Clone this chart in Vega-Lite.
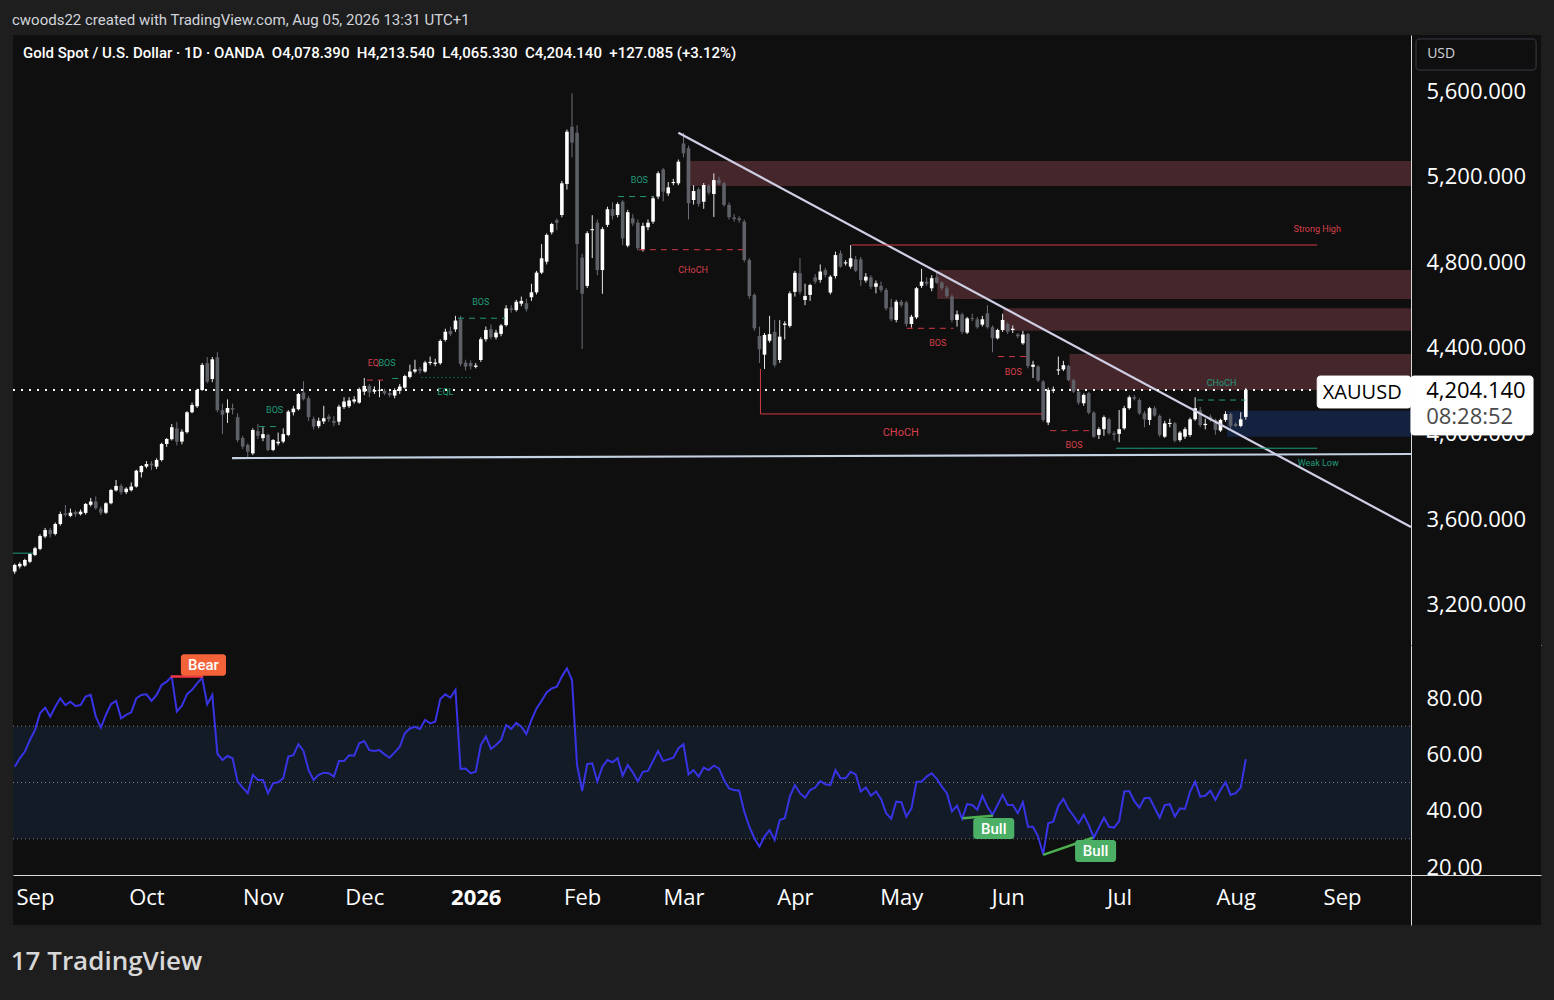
{
  "$schema": "https://vega.github.io/schema/vega-lite/v6.json",
  "background": "#1e1e1e",
  "padding": {"left": 10, "top": 13, "right": 13, "bottom": 40},
  "spacing": 0,
  "title": {"text": "17 TradingView", "orient": "bottom", "anchor": "start", "offset": 24, "font": "Open Sans", "fontSize": 26, "fontWeight": 600, "color": "#d8d8d8"},
  "datasets": {
    "candles": [
      {"i":-4,"o":3356,"h":3393,"l":3345,"c":3387},{"i":-3,"o":3380,"h":3400,"l":3370,"c":3392},{"i":-2,"o":3384,"h":3416,"l":3378,"c":3410},{"i":-1,"o":3402,"h":3442,"l":3395,"c":3438},
      {"i":0,"o":3434,"h":3472,"l":3428,"c":3465},{"i":1,"o":3462,"h":3530,"l":3455,"c":3522},{"i":2,"o":3520,"h":3560,"l":3512,"c":3550},{"i":3,"o":3550,"h":3560,"l":3515,"c":3532},
      {"i":4,"o":3532,"h":3585,"l":3525,"c":3578},{"i":5,"o":3578,"h":3636,"l":3570,"c":3625},{"i":6,"o":3628,"h":3667,"l":3612,"c":3620},{"i":7,"o":3616,"h":3650,"l":3610,"c":3631},
      {"i":8,"o":3634,"h":3642,"l":3612,"c":3624},{"i":9,"o":3624,"h":3646,"l":3618,"c":3636},{"i":10,"o":3630,"h":3676,"l":3622,"c":3672},{"i":11,"o":3668,"h":3700,"l":3660,"c":3683},
      {"i":12,"o":3683,"h":3707,"l":3645,"c":3652},{"i":13,"o":3650,"h":3660,"l":3620,"c":3631},{"i":14,"o":3631,"h":3680,"l":3625,"c":3675},{"i":15,"o":3675,"h":3742,"l":3670,"c":3737},
      {"i":16,"o":3735,"h":3784,"l":3730,"c":3756},{"i":17,"o":3756,"h":3766,"l":3715,"c":3726},{"i":18,"o":3727,"h":3750,"l":3718,"c":3743},{"i":19,"o":3736,"h":3772,"l":3730,"c":3753},
      {"i":20,"o":3753,"h":3832,"l":3748,"c":3827},{"i":21,"o":3820,"h":3852,"l":3795,"c":3849},{"i":22,"o":3846,"h":3872,"l":3838,"c":3858},{"i":23,"o":3860,"h":3872,"l":3830,"c":3852},
      {"i":24,"o":3846,"h":3885,"l":3835,"c":3877},{"i":25,"o":3877,"h":3958,"l":3870,"c":3952},{"i":26,"o":3952,"h":3980,"l":3938,"c":3975},{"i":27,"o":3974,"h":4045,"l":3968,"c":4030},
      {"i":28,"o":4025,"h":4055,"l":3945,"c":3963},{"i":29,"o":3963,"h":4020,"l":3950,"c":4009},{"i":30,"o":4007,"h":4105,"l":4000,"c":4100},{"i":31,"o":4100,"h":4145,"l":4095,"c":4134},
      {"i":32,"o":4128,"h":4210,"l":4120,"c":4204},{"i":33,"o":4204,"h":4330,"l":4200,"c":4321},{"i":34,"o":4329,"h":4358,"l":4235,"c":4243},{"i":35,"o":4255,"h":4358,"l":4240,"c":4347},
      {"i":36,"o":4357,"h":4381,"l":4100,"c":4110},{"i":37,"o":4110,"h":4140,"l":3999,"c":4088},{"i":38,"o":4098,"h":4160,"l":4050,"c":4120},{"i":39,"o":4120,"h":4140,"l":4090,"c":4112},
      {"i":40,"o":4077,"h":4095,"l":3960,"c":3970},{"i":41,"o":3980,"h":3990,"l":3928,"c":3940},{"i":42,"o":3947,"h":3955,"l":3886,"c":3916},{"i":43,"o":3908,"h":4025,"l":3900,"c":4017},
      {"i":44,"o":4012,"h":4046,"l":3975,"c":3990},{"i":45,"o":3979,"h":4030,"l":3965,"c":3998},{"i":46,"o":3994,"h":4000,"l":3918,"c":3924},{"i":47,"o":3924,"h":3975,"l":3918,"c":3970},
      {"i":48,"o":3955,"h":4005,"l":3945,"c":3962},{"i":49,"o":3963,"h":4025,"l":3955,"c":3998},{"i":50,"o":3994,"h":4110,"l":3988,"c":4103},{"i":51,"o":4100,"h":4130,"l":4085,"c":4117},
      {"i":52,"o":4114,"h":4190,"l":4108,"c":4185},{"i":53,"o":4192,"h":4245,"l":4155,"c":4161},{"i":54,"o":4165,"h":4175,"l":4060,"c":4077},{"i":55,"o":4069,"h":4080,"l":4020,"c":4033},
      {"i":56,"o":4035,"h":4075,"l":4025,"c":4060},{"i":57,"o":4057,"h":4130,"l":4045,"c":4072},{"i":58,"o":4080,"h":4090,"l":4055,"c":4068},{"i":59,"o":4060,"h":4082,"l":4035,"c":4050},
      {"i":60,"o":4056,"h":4135,"l":4040,"c":4126},{"i":61,"o":4124,"h":4170,"l":4115,"c":4150},{"i":62,"o":4128,"h":4170,"l":4120,"c":4155},{"i":63,"o":4150,"h":4175,"l":4140,"c":4160},
      {"i":64,"o":4145,"h":4215,"l":4140,"c":4207},{"i":65,"o":4196,"h":4260,"l":4180,"c":4223},{"i":66,"o":4223,"h":4232,"l":4170,"c":4192},{"i":67,"o":4196,"h":4220,"l":4185,"c":4204},
      {"i":68,"o":4200,"h":4250,"l":4170,"c":4205},{"i":69,"o":4200,"h":4210,"l":4180,"c":4188},{"i":70,"o":4190,"h":4198,"l":4170,"c":4180},{"i":71,"o":4178,"h":4212,"l":4165,"c":4204},
      {"i":72,"o":4200,"h":4232,"l":4185,"c":4220},{"i":73,"o":4215,"h":4275,"l":4210,"c":4269},{"i":74,"o":4265,"h":4322,"l":4258,"c":4290},{"i":75,"o":4290,"h":4345,"l":4282,"c":4300},
      {"i":76,"o":4302,"h":4312,"l":4280,"c":4294},{"i":77,"o":4290,"h":4340,"l":4285,"c":4332},{"i":78,"o":4330,"h":4360,"l":4320,"c":4335},{"i":79,"o":4326,"h":4350,"l":4315,"c":4332},
      {"i":80,"o":4329,"h":4440,"l":4322,"c":4433},{"i":81,"o":4438,"h":4490,"l":4430,"c":4476},{"i":82,"o":4480,"h":4500,"l":4455,"c":4465},{"i":83,"o":4487,"h":4550,"l":4475,"c":4528},
      {"i":84,"o":4534,"h":4550,"l":4315,"c":4326},{"i":85,"o":4332,"h":4345,"l":4295,"c":4313},{"i":86,"o":4330,"h":4342,"l":4300,"c":4315},{"i":87,"o":4312,"h":4330,"l":4305,"c":4318},
      {"i":88,"o":4344,"h":4450,"l":4335,"c":4441},{"i":89,"o":4441,"h":4500,"l":4430,"c":4484},{"i":90,"o":4488,"h":4510,"l":4440,"c":4450},{"i":91,"o":4450,"h":4485,"l":4440,"c":4472},
      {"i":92,"o":4466,"h":4512,"l":4455,"c":4505},{"i":93,"o":4507,"h":4600,"l":4500,"c":4585},{"i":94,"o":4585,"h":4600,"l":4565,"c":4578},{"i":95,"o":4577,"h":4625,"l":4570,"c":4616},
      {"i":96,"o":4607,"h":4640,"l":4595,"c":4620},{"i":97,"o":4609,"h":4630,"l":4570,"c":4581},{"i":98,"o":4637,"h":4700,"l":4620,"c":4660},{"i":99,"o":4660,"h":4760,"l":4650,"c":4752},
      {"i":100,"o":4752,"h":4885,"l":4745,"c":4819},{"i":101,"o":4803,"h":4935,"l":4790,"c":4928},{"i":102,"o":4940,"h":4985,"l":4930,"c":4979},{"i":103,"o":4997,"h":5005,"l":4950,"c":4985},
      {"i":104,"o":5021,"h":5180,"l":5010,"c":5169},{"i":105,"o":5166,"h":5420,"l":5140,"c":5410},{"i":106,"o":5433,"h":5589,"l":5290,"c":5359},{"i":107,"o":5405,"h":5440,"l":4671,"c":4886},
      {"i":108,"o":4822,"h":4840,"l":4395,"c":4653},{"i":109,"o":4690,"h":4945,"l":4680,"c":4936},{"i":110,"o":4950,"h":5020,"l":4820,"c":4955},{"i":111,"o":4985,"h":5000,"l":4740,"c":4764},
      {"i":112,"o":4764,"h":4965,"l":4653,"c":4955},{"i":113,"o":4975,"h":5060,"l":4965,"c":5048},{"i":114,"o":5048,"h":5080,"l":5000,"c":5017},{"i":115,"o":5021,"h":5080,"l":5010,"c":5072},
      {"i":116,"o":5083,"h":5090,"l":4880,"c":4912},{"i":117,"o":4878,"h":5045,"l":4870,"c":5034},{"i":118,"o":5006,"h":5025,"l":4970,"c":4982},{"i":119,"o":4985,"h":5000,"l":4855,"c":4866},
      {"i":120,"o":4858,"h":4985,"l":4850,"c":4970},{"i":121,"o":4964,"h":5000,"l":4950,"c":4985},{"i":122,"o":4990,"h":5110,"l":4980,"c":5099},{"i":123,"o":5107,"h":5225,"l":5095,"c":5216},
      {"i":124,"o":5234,"h":5240,"l":5085,"c":5130},{"i":125,"o":5122,"h":5175,"l":5110,"c":5150},{"i":126,"o":5170,"h":5190,"l":5160,"c":5175},{"i":127,"o":5169,"h":5280,"l":5160,"c":5270},
      {"i":128,"o":5355,"h":5404,"l":5290,"c":5309},{"i":129,"o":5333,"h":5345,"l":5000,"c":5076},{"i":130,"o":5091,"h":5160,"l":5070,"c":5133},{"i":131,"o":5141,"h":5150,"l":5060,"c":5073},
      {"i":132,"o":5083,"h":5170,"l":5050,"c":5161},{"i":133,"o":5157,"h":5165,"l":5115,"c":5125},{"i":134,"o":5119,"h":5215,"l":5012,"c":5184},{"i":135,"o":5184,"h":5200,"l":5160,"c":5169},
      {"i":136,"o":5169,"h":5175,"l":5060,"c":5068},{"i":137,"o":5068,"h":5080,"l":5000,"c":5011},{"i":138,"o":5010,"h":5025,"l":4990,"c":5002},{"i":139,"o":5005,"h":5015,"l":4985,"c":4997},
      {"i":140,"o":4990,"h":5000,"l":4800,"c":4811},{"i":141,"o":4811,"h":4820,"l":4630,"c":4643},{"i":142,"o":4648,"h":4655,"l":4480,"c":4492},{"i":143,"o":4456,"h":4500,"l":4330,"c":4394},
      {"i":144,"o":4369,"h":4470,"l":4302,"c":4461},{"i":145,"o":4434,"h":4550,"l":4425,"c":4465},{"i":146,"o":4475,"h":4530,"l":4310,"c":4320},{"i":147,"o":4344,"h":4530,"l":4330,"c":4453},
      {"i":148,"o":4508,"h":4525,"l":4440,"c":4514},{"i":149,"o":4503,"h":4665,"l":4495,"c":4655},{"i":150,"o":4662,"h":4760,"l":4640,"c":4751},{"i":151,"o":4749,"h":4820,"l":4650,"c":4663},
      {"i":152,"o":4624,"h":4700,"l":4600,"c":4643},{"i":153,"o":4648,"h":4700,"l":4620,"c":4694},{"i":154,"o":4730,"h":4745,"l":4700,"c":4710},{"i":155,"o":4718,"h":4790,"l":4705,"c":4757},
      {"i":156,"o":4764,"h":4775,"l":4730,"c":4741},{"i":157,"o":4659,"h":4740,"l":4650,"c":4733},{"i":158,"o":4736,"h":4850,"l":4725,"c":4834},{"i":159,"o":4842,"h":4855,"l":4775,"c":4780},
      {"i":160,"o":4795,"h":4810,"l":4785,"c":4800},{"i":161,"o":4780,"h":4881,"l":4770,"c":4819},{"i":162,"o":4814,"h":4830,"l":4755,"c":4761},{"i":163,"o":4814,"h":4825,"l":4690,"c":4718},
      {"i":164,"o":4715,"h":4750,"l":4705,"c":4733},{"i":165,"o":4730,"h":4740,"l":4675,"c":4686},{"i":166,"o":4686,"h":4715,"l":4655,"c":4702},{"i":167,"o":4690,"h":4710,"l":4660,"c":4671},
      {"i":168,"o":4671,"h":4680,"l":4575,"c":4585},{"i":169,"o":4590,"h":4630,"l":4525,"c":4534},{"i":170,"o":4531,"h":4625,"l":4520,"c":4616},{"i":171,"o":4616,"h":4625,"l":4590,"c":4600},
      {"i":172,"o":4612,"h":4620,"l":4500,"c":4512},{"i":173,"o":4512,"h":4555,"l":4495,"c":4546},{"i":174,"o":4543,"h":4685,"l":4535,"c":4679},{"i":175,"o":4690,"h":4770,"l":4680,"c":4710},
      {"i":176,"o":4710,"h":4730,"l":4690,"c":4700},{"i":177,"o":4679,"h":4740,"l":4665,"c":4726},{"i":178,"o":4730,"h":4760,"l":4700,"c":4705},{"i":179,"o":4705,"h":4712,"l":4670,"c":4680},
      {"i":180,"o":4679,"h":4690,"l":4635,"c":4643},{"i":181,"o":4640,"h":4650,"l":4520,"c":4531},{"i":182,"o":4531,"h":4575,"l":4500,"c":4557},{"i":183,"o":4557,"h":4565,"l":4465,"c":4476},
      {"i":184,"o":4472,"h":4545,"l":4465,"c":4538},{"i":185,"o":4540,"h":4560,"l":4525,"c":4535},{"i":186,"o":4534,"h":4545,"l":4490,"c":4497},{"i":187,"o":4509,"h":4550,"l":4500,"c":4534},
      {"i":188,"o":4562,"h":4600,"l":4490,"c":4497},{"i":189,"o":4497,"h":4505,"l":4380,"c":4445},{"i":190,"o":4445,"h":4490,"l":4440,"c":4484},{"i":191,"o":4484,"h":4560,"l":4475,"c":4531},
      {"i":192,"o":4512,"h":4520,"l":4465,"c":4476},{"i":193,"o":4484,"h":4505,"l":4470,"c":4490},{"i":194,"o":4463,"h":4470,"l":4445,"c":4455},{"i":195,"o":4422,"h":4480,"l":4415,"c":4463},
      {"i":196,"o":4465,"h":4470,"l":4305,"c":4316},{"i":197,"o":4312,"h":4340,"l":4260,"c":4322},{"i":198,"o":4313,"h":4320,"l":4240,"c":4248},{"i":199,"o":4243,"h":4250,"l":4055,"c":4064},
      {"i":200,"o":4052,"h":4215,"l":4040,"c":4204},{"i":201,"o":4200,"h":4220,"l":4190,"c":4206},{"i":202,"o":4295,"h":4360,"l":4274,"c":4300},{"i":203,"o":4300,"h":4340,"l":4292,"c":4320},
      {"i":204,"o":4316,"h":4322,"l":4245,"c":4250},{"i":205,"o":4250,"h":4256,"l":4190,"c":4196},{"i":206,"o":4196,"h":4205,"l":4135,"c":4145},{"i":207,"o":4142,"h":4188,"l":4130,"c":4181},
      {"i":208,"o":4189,"h":4195,"l":4090,"c":4098},{"i":209,"o":4098,"h":4105,"l":3980,"c":3986},{"i":210,"o":3994,"h":4030,"l":3975,"c":4021},{"i":211,"o":4021,"h":4085,"l":3990,"c":4077},
      {"i":212,"o":4067,"h":4075,"l":3995,"c":4002},{"i":213,"o":4002,"h":4012,"l":3968,"c":3995},{"i":214,"o":3999,"h":4110,"l":3960,"c":4021},{"i":215,"o":4025,"h":4130,"l":4018,"c":4119},
      {"i":216,"o":4119,"h":4178,"l":4112,"c":4170},{"i":217,"o":4170,"h":4180,"l":4155,"c":4163},{"i":218,"o":4157,"h":4165,"l":4088,"c":4095},{"i":219,"o":4095,"h":4105,"l":4030,"c":4067},
      {"i":220,"o":4064,"h":4125,"l":4040,"c":4119},{"i":221,"o":4119,"h":4128,"l":4080,"c":4085},{"i":222,"o":4083,"h":4090,"l":3985,"c":3994},{"i":223,"o":3986,"h":4060,"l":3980,"c":4048},
      {"i":224,"o":4045,"h":4070,"l":4030,"c":4050},{"i":225,"o":4048,"h":4055,"l":3960,"c":3967},{"i":226,"o":3970,"h":4012,"l":3962,"c":4005},{"i":227,"o":3986,"h":4030,"l":3975,"c":4021},
      {"i":228,"o":3994,"h":4075,"l":3985,"c":4067},{"i":229,"o":4067,"h":4170,"l":4060,"c":4119},{"i":230,"o":4110,"h":4125,"l":4030,"c":4040},{"i":231,"o":4040,"h":4070,"l":4020,"c":4046},
      {"i":232,"o":4079,"h":4090,"l":4055,"c":4064},{"i":233,"o":4064,"h":4070,"l":3995,"c":4017},{"i":234,"o":4015,"h":4070,"l":4008,"c":4064},{"i":235,"o":4064,"h":4105,"l":4055,"c":4092},
      {"i":236,"o":4092,"h":4098,"l":4025,"c":4036},{"i":237,"o":4045,"h":4052,"l":4030,"c":4036},{"i":238,"o":4036,"h":4100,"l":4030,"c":4067},{"i":239,"o":4078.39,"h":4213.54,"l":4065.33,"c":4204.14}
    ],
    "rsi": [
      {"i":-4,"r":55.6},{"i":-3,"r":58.6},{"i":-2,"r":61},{"i":-1,"r":65.1},{"i":0,"r":68.6},{"i":1,"r":74.6},{"i":2,"r":76.6},{"i":3,"r":73.4},{"i":4,"r":76.9},{"i":5,"r":79.9},
      {"i":6,"r":77.5},{"i":7,"r":78.7},{"i":8,"r":77.2},{"i":9,"r":77.5},{"i":10,"r":80.5},{"i":11,"r":81.1},{"i":12,"r":73.4},{"i":13,"r":69.5},{"i":14,"r":74},{"i":15,"r":77.8},
      {"i":16,"r":79},{"i":17,"r":72.8},{"i":18,"r":74},{"i":19,"r":74.9},{"i":20,"r":79.9},{"i":21,"r":81.1},{"i":22,"r":81.3},{"i":23,"r":79},{"i":24,"r":81.1},{"i":25,"r":84.6},
      {"i":26,"r":85.8},{"i":27,"r":87.6},{"i":28,"r":75.2},{"i":29,"r":77.3},{"i":30,"r":81.3},{"i":31,"r":82.9},{"i":32,"r":85.2},{"i":33,"r":87.2},{"i":34,"r":77.8},{"i":35,"r":81.1},
      {"i":36,"r":60.3},{"i":37,"r":58},{"i":38,"r":59.4},{"i":39,"r":58.6},{"i":40,"r":50.3},{"i":41,"r":48.2},{"i":42,"r":46.2},{"i":43,"r":52.7},{"i":44,"r":50.9},{"i":45,"r":50.9},
      {"i":46,"r":46.2},{"i":47,"r":49.7},{"i":48,"r":50.1},{"i":49,"r":51.5},{"i":50,"r":59.2},{"i":51,"r":59.7},{"i":52,"r":63.6},{"i":53,"r":61.2},{"i":54,"r":54.4},{"i":55,"r":50.9},
      {"i":56,"r":52.7},{"i":57,"r":53.5},{"i":58,"r":53.3},{"i":59,"r":52.1},{"i":60,"r":57.6},{"i":61,"r":57.6},{"i":62,"r":59.7},{"i":63,"r":59.5},{"i":64,"r":63.9},{"i":65,"r":64.7},
      {"i":66,"r":61.5},{"i":67,"r":61.2},{"i":68,"r":61.5},{"i":69,"r":60},{"i":70,"r":58.8},{"i":71,"r":60.7},{"i":72,"r":62.7},{"i":73,"r":67.5},{"i":74,"r":69.2},{"i":75,"r":69.8},
      {"i":76,"r":69},{"i":77,"r":72.2},{"i":78,"r":71},{"i":79,"r":71.6},{"i":80,"r":79.6},{"i":81,"r":81.3},{"i":82,"r":80.1},{"i":83,"r":82.9},{"i":84,"r":54.8},{"i":85,"r":55},
      {"i":86,"r":53.3},{"i":87,"r":53.8},{"i":88,"r":63.3},{"i":89,"r":66.3},{"i":90,"r":61.9},{"i":91,"r":63.3},{"i":92,"r":65.1},{"i":93,"r":70.4},{"i":94,"r":69},{"i":95,"r":71.2},
      {"i":96,"r":69.8},{"i":97,"r":67.2},{"i":98,"r":72.2},{"i":99,"r":76.3},{"i":100,"r":79},{"i":101,"r":82},{"i":102,"r":83.4},{"i":103,"r":84},{"i":104,"r":87.6},{"i":105,"r":90.5},
      {"i":106,"r":86.4},{"i":107,"r":56.2},{"i":108,"r":47},{"i":109,"r":56.5},{"i":110,"r":56.8},{"i":111,"r":50.3},{"i":112,"r":55.6},{"i":113,"r":58},{"i":114,"r":57.2},{"i":115,"r":58.6},
      {"i":116,"r":52.4},{"i":117,"r":56.2},{"i":118,"r":53.6},{"i":119,"r":50.4},{"i":120,"r":53.8},{"i":121,"r":54.1},{"i":123,"r":61.2},{"i":124,"r":57.6},{"i":126,"r":58.8},{"i":127,"r":62.1},
      {"i":128,"r":63.6},{"i":129,"r":52.9},{"i":130,"r":54.4},{"i":131,"r":52.1},{"i":132,"r":55.3},{"i":133,"r":54.4},{"i":134,"r":56},{"i":135,"r":55},{"i":136,"r":50.9},{"i":137,"r":47.9},
      {"i":138,"r":47.3},{"i":139,"r":47.1},{"i":140,"r":39.7},{"i":141,"r":34.3},{"i":142,"r":30.2},{"i":143,"r":27.2},{"i":144,"r":30.8},{"i":145,"r":33.1},{"i":146,"r":29.6},{"i":147,"r":36.7},
      {"i":148,"r":37.3},{"i":149,"r":45},{"i":150,"r":49.1},{"i":151,"r":46.2},{"i":152,"r":44.6},{"i":153,"r":47.3},{"i":154,"r":48.2},{"i":155,"r":50.5},{"i":156,"r":49.4},{"i":157,"r":49.1},
      {"i":158,"r":54.4},{"i":159,"r":51.5},{"i":160,"r":51.5},{"i":161,"r":53.8},{"i":162,"r":52.9},{"i":163,"r":46.8},{"i":164,"r":48.2},{"i":165,"r":45.3},{"i":166,"r":46.8},{"i":167,"r":44.2},
      {"i":168,"r":39.1},{"i":169,"r":37.1},{"i":170,"r":43.2},{"i":171,"r":43},{"i":172,"r":37.9},{"i":173,"r":40.8},{"i":174,"r":50.3},{"i":175,"r":50.3},{"i":176,"r":52.1},{"i":177,"r":53.3},
      {"i":178,"r":51.3},{"i":179,"r":48.5},{"i":180,"r":46.2},{"i":181,"r":39.7},{"i":182,"r":41.8},{"i":183,"r":37.1},{"i":184,"r":42.3},{"i":185,"r":42},{"i":186,"r":40.3},{"i":187,"r":45.3},
      {"i":188,"r":41.4},{"i":189,"r":38.5},{"i":190,"r":42},{"i":191,"r":45.6},{"i":192,"r":42},{"i":193,"r":42},{"i":194,"r":39.1},{"i":195,"r":43},{"i":196,"r":34.3},{"i":197,"r":34.3},
      {"i":198,"r":30.8},{"i":199,"r":24.5},{"i":200,"r":35.5},{"i":201,"r":36.1},{"i":202,"r":41.8},{"i":203,"r":44.2},{"i":204,"r":40.6},{"i":205,"r":38.2},{"i":206,"r":35.5},{"i":207,"r":38.5},
      {"i":208,"r":34.9},{"i":209,"r":30.4},{"i":210,"r":34},{"i":211,"r":37.5},{"i":212,"r":34.3},{"i":213,"r":34},{"i":214,"r":36.3},{"i":215,"r":46.8},{"i":216,"r":47},{"i":217,"r":43.4},
      {"i":218,"r":41.1},{"i":219,"r":44.4},{"i":220,"r":44.6},{"i":222,"r":37.5},{"i":223,"r":42},{"i":224,"r":42.3},{"i":225,"r":37.9},{"i":226,"r":40.8},{"i":227,"r":40.6},{"i":228,"r":46.8},
      {"i":229,"r":50.3},{"i":230,"r":45},{"i":231,"r":45.3},{"i":232,"r":47.1},{"i":233,"r":43.8},{"i":234,"r":47.3},{"i":235,"r":50.1},{"i":236,"r":45.6},{"i":237,"r":46.2},{"i":238,"r":48.2},
      {"i":239,"r":58.3}
    ],
    "zones": [
      {"x":128.6,"x2":271.6,"y":5157,"y2":5273,"kind":"supply"},
      {"x":178.1,"x2":271.6,"y":4629,"y2":4764,"kind":"supply"},
      {"x":191.1,"x2":271.6,"y":4481,"y2":4586,"kind":"supply"},
      {"x":204.2,"x2":271.6,"y":4204,"y2":4372,"kind":"supply"},
      {"x":235.3,"x2":271.6,"y":3986,"y2":4107,"kind":"demand"}
    ],
    "segs": [
      {"x":127.0,"y":5405,"x2":271.6,"y2":3564,"kind":"trend"},
      {"x":38.9,"y":3886,"x2":271.6,"y2":3905,"kind":"support"},
      {"x":161.2,"y":4881,"x2":253.1,"y2":4881,"kind":"red"},
      {"x":143.2,"y":4092,"x2":198.8,"y2":4092,"kind":"red"},
      {"x":143.2,"y":4302,"x2":143.2,"y2":4092,"kind":"red"},
      {"x":119.2,"y":4859,"x2":139.8,"y2":4859,"kind":"redDash"},
      {"x":172.1,"y":4492,"x2":181.3,"y2":4492,"kind":"redDash"},
      {"x":190.1,"y":4360,"x2":195.8,"y2":4360,"kind":"redDash"},
      {"x":200.4,"y":4014,"x2":208.8,"y2":4014,"kind":"redDash"},
      {"x":65.5,"y":4250,"x2":68.7,"y2":4250,"kind":"redDash"},
      {"x":213.4,"y":3932,"x2":253.1,"y2":3932,"kind":"green"},
      {"x":-4.34,"y":3442,"x2":-0.4,"y2":3442,"kind":"green"},
      {"x":44.2,"y":4033,"x2":48.0,"y2":4033,"kind":"greenDash"},
      {"x":83.5,"y":4539,"x2":92.8,"y2":4539,"kind":"greenDash"},
      {"x":115.1,"y":5107,"x2":121.8,"y2":5107,"kind":"greenDash"},
      {"x":229.4,"y":4157,"x2":238.9,"y2":4157,"kind":"greenDash"},
      {"x":70.5,"y":4258,"x2":71.7,"y2":4258,"kind":"greenDash"},
      {"x":76.3,"y":4262,"x2":86.2,"y2":4262,"kind":"greenDot"},
      {"x":-4.34,"y":4204.14,"x2":253.1,"y2":4204.14,"kind":"price"}
    ],
    "tags": [
      {"x":129.9,"y":4764,"t":"CHoCH","kind":"red"},
      {"x":178.2,"y":4424,"t":"BOS","kind":"red"},
      {"x":193.1,"y":4288,"t":"BOS","kind":"red"},
      {"x":205.1,"y":3947,"t":"BOS","kind":"red"},
      {"x":253.1,"y":4956,"t":"Strong High","kind":"red"},
      {"x":66.8,"y":4330,"t":"EQ","kind":"red"},
      {"x":69.5,"y":4330,"t":"BOS","kind":"green"},
      {"x":47.3,"y":4111,"t":"BOS","kind":"green"},
      {"x":88,"y":4617,"t":"BOS","kind":"green"},
      {"x":119.3,"y":5184,"t":"BOS","kind":"green"},
      {"x":234.2,"y":4235,"t":"CHoCH","kind":"green"},
      {"x":253.3,"y":3863,"t":"Weak Low","kind":"green"},
      {"x":81,"y":4193,"t":"EQL","kind":"green"},
      {"x":170.9,"y":4003,"t":"CHoCH","kind":"redBig"}
    ],
    "boxes": [
      {"x":253.1,"x2":271.6,"y":4120,"y2":4269,"kind":"white"},
      {"x":271.6,"x2":295.7,"y":3994,"y2":4269,"kind":"white"},
      {"x":272.6,"x2":296.3,"y":5698,"y2":5843,"kind":"usd"}
    ],
    "boxText": [
      {"x":254.2,"y":4190,"t":"XAUUSD","kind":"sym"},
      {"x":274.6,"y":4200,"t":"4,204.140","kind":"px"},
      {"x":274.6,"y":4078,"t":"08:28:52","kind":"time"},
      {"x":274.8,"y":5773,"t":"USD","kind":"usd"}
    ],
    "rsiSegs": [
      {"x":26.8,"y":87.6,"x2":33.2,"y2":87.6,"kind":"bear"},
      {"x":183.1,"y":37.3,"x2":189.1,"y2":38.2,"kind":"bull"},
      {"x":199.0,"y":24.3,"x2":208.8,"y2":30.4,"kind":"bull"}
    ],
    "rsiTags": [
      {"x":28.8,"x2":37.7,"y":87.9,"y2":95.5,"tx":33.25,"ty":91.6,"t":"Bear","kind":"bear"},
      {"x":185.2,"x2":193.3,"y":29.95,"y2":37.4,"tx":189.25,"ty":33.6,"t":"Bull","kind":"bull"},
      {"x":205.3,"x2":213.4,"y":21.8,"y2":29.6,"tx":209.35,"ty":25.6,"t":"Bull","kind":"bull"}
    ]
  },
  "vconcat": [
    {
      "width": 1528,
      "height": 610,
      "title": {"text": "cwoods22 created with TradingView.com, Aug 05, 2026 13:31 UTC+1", "anchor": "start", "offset": 7, "font": "Roboto", "fontSize": 15, "fontWeight": "normal", "color": "#d1d4dc"},
      "layer": [
        {
          "data": {"name": "zones"},
          "mark": {"type": "rect"},
          "encoding": {
            "x": {"field": "x", "type": "quantitative", "title": null, "scale": {"domain": [-4.34, 297.27], "nice": false, "zero": false, "padding": 0}, "axis": {"labels": false, "ticks": false, "domain": true, "values": [0], "orient": "bottom"}},
            "x2": {"field": "x2"},
            "y": {"field": "y", "type": "quantitative", "title": null, "scale": {"domain": [3013.2, 5861.5], "nice": false, "zero": false}, "axis": {"orient": "right", "offset": -130, "values": [3200, 3600, 4000, 4400, 4800, 5200, 5600], "format": ",.3f", "labelAlign": "left", "labelBaseline": "middle", "labelPadding": 15}},
            "y2": {"field": "y2"},
            "color": {"condition": {"test": "datum.kind == 'demand'", "value": "#142240"}, "value": "#45272b"}
          }
        },
        {
          "data": {"name": "candles"},
          "mark": {"type": "rule", "strokeWidth": 1},
          "encoding": {
            "x": {"field": "i", "type": "quantitative", "title": null},
            "y": {"field": "l", "type": "quantitative", "title": null},
            "y2": {"field": "h"},
            "color": {"condition": {"test": "datum.c >= datum.o", "value": "#e6e6e6"}, "value": "#6c6f78"}
          }
        },
        {
          "data": {"name": "candles"},
          "mark": {"type": "bar", "width": 3.6},
          "encoding": {
            "x": {"field": "i", "type": "quantitative", "title": null},
            "y": {"field": "o", "type": "quantitative", "title": null},
            "y2": {"field": "c"},
            "color": {"condition": {"test": "datum.c >= datum.o", "value": "#ffffff"}, "value": "#5e6068"}
          }
        },
        {
          "data": {"name": "segs"},
          "transform": [{"filter": "datum.kind == 'trend' || datum.kind == 'support'"}],
          "mark": {"type": "rule", "strokeWidth": 2.2},
          "encoding": {
            "x": {"field": "x", "type": "quantitative", "title": null},
            "y": {"field": "y", "type": "quantitative", "title": null},
            "x2": {"field": "x2"},
            "y2": {"field": "y2"},
            "color": {"condition": {"test": "datum.kind == 'trend'", "value": "#cfcfe6"}, "value": "#c5d2e4"}
          }
        },
        {
          "data": {"name": "segs"},
          "transform": [{"filter": "datum.kind == 'red' || datum.kind == 'green'"}],
          "mark": {"type": "rule", "strokeWidth": 1},
          "encoding": {
            "x": {"field": "x", "type": "quantitative", "title": null},
            "y": {"field": "y", "type": "quantitative", "title": null},
            "x2": {"field": "x2"},
            "y2": {"field": "y2"},
            "color": {"condition": {"test": "datum.kind == 'red'", "value": "#d23a46"}, "value": "#1f9c7b"}
          }
        },
        {
          "data": {"name": "segs"},
          "transform": [{"filter": "datum.kind == 'redDash' || datum.kind == 'greenDash'"}],
          "mark": {"type": "rule", "strokeWidth": 1, "strokeDash": [6, 5]},
          "encoding": {
            "x": {"field": "x", "type": "quantitative", "title": null},
            "y": {"field": "y", "type": "quantitative", "title": null},
            "x2": {"field": "x2"},
            "y2": {"field": "y2"},
            "color": {"condition": {"test": "datum.kind == 'redDash'", "value": "#d23a46"}, "value": "#1f9c7b"}
          }
        },
        {
          "data": {"name": "segs"},
          "transform": [{"filter": "datum.kind == 'greenDot'"}],
          "mark": {"type": "rule", "strokeWidth": 1, "strokeDash": [1, 3], "color": "#1f9c7b"},
          "encoding": {
            "x": {"field": "x", "type": "quantitative", "title": null},
            "y": {"field": "y", "type": "quantitative", "title": null},
            "x2": {"field": "x2"},
            "y2": {"field": "y2"}
          }
        },
        {
          "data": {"name": "segs"},
          "transform": [{"filter": "datum.kind == 'price'"}],
          "mark": {"type": "rule", "strokeWidth": 2, "strokeDash": [2, 6], "color": "#ffffff"},
          "encoding": {
            "x": {"field": "x", "type": "quantitative", "title": null},
            "y": {"field": "y", "type": "quantitative", "title": null},
            "x2": {"field": "x2"},
            "y2": {"field": "y2"}
          }
        },
        {
          "data": {"name": "tags"},
          "mark": {"type": "text", "font": "Roboto", "align": "center", "baseline": "middle"},
          "encoding": {
            "x": {"field": "x", "type": "quantitative", "title": null},
            "y": {"field": "y", "type": "quantitative", "title": null},
            "text": {"field": "t"},
            "color": {"condition": {"test": "datum.kind == 'green'", "value": "#1f9c7b"}, "value": "#d8404c"},
            "size": {"condition": {"test": "datum.kind == 'redBig'", "value": 11}, "value": 9}
          }
        },
        {
          "data": {"name": "boxes"},
          "mark": {"type": "rect", "cornerRadius": 3},
          "encoding": {
            "x": {"field": "x", "type": "quantitative", "title": null},
            "x2": {"field": "x2"},
            "y": {"field": "y", "type": "quantitative", "title": null},
            "y2": {"field": "y2"},
            "color": {"condition": {"test": "datum.kind == 'usd'", "value": "#0f0f0f"}, "value": "#ffffff"},
            "stroke": {"condition": {"test": "datum.kind == 'usd'", "value": "#3a3d46"}, "value": "#ffffff"}
          }
        },
        {
          "data": {"name": "boxText"},
          "mark": {"type": "text", "font": "Open Sans", "align": "left", "baseline": "middle"},
          "encoding": {
            "x": {"field": "x", "type": "quantitative", "title": null},
            "y": {"field": "y", "type": "quantitative", "title": null},
            "text": {"field": "t"},
            "color": {"condition": [{"test": "datum.kind == 'usd'", "value": "#d1d4dc"}, {"test": "datum.kind == 'time'", "value": "#4a4a4a"}], "value": "#000000"},
            "size": {"condition": [{"test": "datum.kind == 'usd'", "value": 14}, {"test": "datum.kind == 'sym'", "value": 20}], "value": 22}
          }
        },
        {
          "data": {"values": [{"x": -2.37, "y": 5777, "t": "Gold Spot / U.S. Dollar · 1D · OANDA \u00a0O4,078.390 \u00a0H4,213.540 \u00a0L4,065.330 \u00a0C4,204.140 \u00a0+127.085 (+3.12%)"}]},
          "mark": {"type": "text", "font": "Roboto", "fontSize": 15, "fontWeight": 500, "align": "left", "baseline": "middle", "color": "#ffffff"},
          "encoding": {
            "x": {"field": "x", "type": "quantitative", "title": null},
            "y": {"field": "y", "type": "quantitative", "title": null},
            "text": {"field": "t"}
          }
        }
      ]
    },
    {
      "width": 1528,
      "height": 280,
      "layer": [
        {
          "data": {"values": [{"x": -4.34, "x2": 271.6, "y": 30, "y2": 70}]},
          "mark": {"type": "rect", "color": "#121b26"},
          "encoding": {
            "x": {"field": "x", "type": "quantitative", "title": null, "scale": {"domain": [-4.34, 297.27], "nice": false, "zero": false, "padding": 0}, "axis": {"orient": "bottom", "offset": -50, "values": [0, 22, 45, 65, 87, 108, 128, 150, 171, 192, 214, 237, 258], "labelExpr": "['Sep','Oct','Nov','Dec','2026','Feb','Mar','Apr','May','Jun','Jul','Aug','Sep'][indexof([0,22,45,65,87,108,128,150,171,192,214,237,258], datum.value)]", "labelPadding": 12, "labelFontWeight": {"condition": {"test": "datum.value == 87", "value": "bold"}, "value": "normal"}}},
            "x2": {"field": "x2"},
            "y": {"field": "y", "type": "quantitative", "title": null, "scale": {"domain": [-0.59, 98.82], "nice": false, "zero": false}, "axis": {"orient": "right", "offset": -130, "values": [20, 40, 60, 80], "format": ".2f", "labelAlign": "left", "labelBaseline": "middle", "labelPadding": 15}},
            "y2": {"field": "y2"}
          }
        },
        {
          "data": {"values": [{"x": -4.34, "x2": 271.6, "y": 70}, {"x": -4.34, "x2": 271.6, "y": 50}, {"x": -4.34, "x2": 271.6, "y": 30}]},
          "mark": {"type": "rule", "strokeWidth": 1, "strokeDash": [1, 3], "color": "#7a7d87"},
          "encoding": {
            "x": {"field": "x", "type": "quantitative", "title": null},
            "x2": {"field": "x2"},
            "y": {"field": "y", "type": "quantitative", "title": null}
          }
        },
        {
          "data": {"name": "rsi"},
          "mark": {"type": "line", "strokeWidth": 2, "color": "#3834e6"},
          "encoding": {
            "x": {"field": "i", "type": "quantitative", "title": null},
            "y": {"field": "r", "type": "quantitative", "title": null}
          }
        },
        {
          "data": {"name": "rsiSegs"},
          "mark": {"type": "rule", "strokeWidth": 2.5},
          "encoding": {
            "x": {"field": "x", "type": "quantitative", "title": null},
            "y": {"field": "y", "type": "quantitative", "title": null},
            "x2": {"field": "x2"},
            "y2": {"field": "y2"},
            "color": {"condition": {"test": "datum.kind == 'bear'", "value": "#f23645"}, "value": "#4caf50"}
          }
        },
        {
          "data": {"name": "rsiTags"},
          "mark": {"type": "rect", "cornerRadius": 3},
          "encoding": {
            "x": {"field": "x", "type": "quantitative", "title": null},
            "x2": {"field": "x2"},
            "y": {"field": "y", "type": "quantitative", "title": null},
            "y2": {"field": "y2"},
            "color": {"condition": {"test": "datum.kind == 'bear'", "value": "#f4623a"}, "value": "#4caf66"}
          }
        },
        {
          "data": {"name": "rsiTags"},
          "mark": {"type": "text", "font": "Roboto", "fontSize": 15, "fontWeight": 500, "align": "center", "baseline": "middle", "color": "#ffffff"},
          "encoding": {
            "x": {"field": "tx", "type": "quantitative", "title": null},
            "y": {"field": "ty", "type": "quantitative", "title": null},
            "text": {"field": "t"}
          }
        }
      ]
    }
  ],
  "config": {
    "view": {"stroke": null, "fill": "#0f0f0f"},
    "axis": {"grid": false, "ticks": false, "tickSize": 0, "domainColor": "#d9d9d9", "domainWidth": 1, "labelColor": "#ffffff", "labelFont": "Open Sans", "labelFontSize": 22, "labelFlush": false, "labelOverlap": false}
  }
}
